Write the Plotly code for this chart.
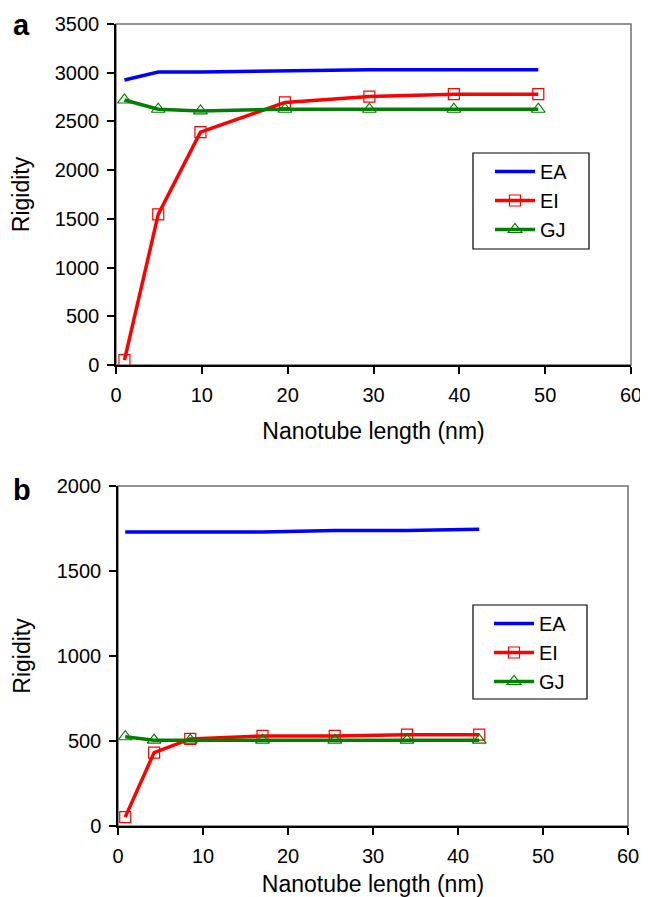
import plotly.graph_objects as go

# Panel a data
xa = [0.984, 4.92, 9.84, 19.68, 29.52, 39.36, 49.2]
ea_a = [2925, 3007, 3007, 3020, 3030, 3030, 3030]
ei_a = [50, 1545, 2390, 2695, 2755, 2780, 2780]
gj_a = [2720, 2625, 2608, 2625, 2625, 2625, 2625]

# Panel b data
xb = [0.85, 4.25, 8.5, 17.0, 25.5, 34.0, 42.5]
ea_b = [1730, 1730, 1730, 1730, 1738, 1738, 1745]
ei_b = [52, 432, 512, 530, 530, 537, 537]
gj_b = [525, 505, 505, 505, 505, 505, 505]

x_ticks = [0, 10, 20, 30, 40, 50, 60]
ya_ticks = [0, 500, 1000, 1500, 2000, 2500, 3000, 3500]
yb_ticks = [0, 500, 1000, 1500, 2000]

BLUE, RED, GREEN = "#0000FF", "#FF0000", "#008000"
FONT = "Liberation Sans, Arial, sans-serif"

# page body has an 8 px margin: figure pixel = screen pixel - 8
OFF = 8
W, H = 640, 889


def px(x):
    return (x - OFF) / W


def py(y):
    return 1 - (y - OFF) / H


fig = go.Figure()


def add_panel(x, ea, ei, gj, xax, yax, legend):
    fig.add_trace(go.Scatter(x=x, y=ea, mode="lines", name="EA",
                             line=dict(color=BLUE, width=3.5),
                             xaxis=xax, yaxis=yax, legend=legend))
    fig.add_trace(go.Scatter(x=x, y=ei, mode="lines+markers", name="EI",
                             line=dict(color=RED, width=3.5),
                             marker=dict(symbol="square-open", size=11, color=RED,
                                         line=dict(width=1.2, color=RED)),
                             xaxis=xax, yaxis=yax, legend=legend))
    fig.add_trace(go.Scatter(x=x, y=gj, mode="lines+markers", name="GJ",
                             line=dict(color=GREEN, width=3.5),
                             marker=dict(symbol="triangle-up-open", size=12, color=GREEN,
                                         line=dict(width=1.2, color=GREEN)),
                             xaxis=xax, yaxis=yax, legend=legend))


add_panel(xa, ea_a, ei_a, gj_a, "x", "y", "legend")
add_panel(xb, ea_b, ei_b, gj_b, "x2", "y2", "legend2")

dom_xa = [px(116), px(631)]
dom_ya = [py(365), py(24)]
dom_xb = [px(118), px(628)]
dom_yb = [py(826), py(486)]

axis_common = dict(showline=True, linecolor="black", linewidth=1.5, ticks="outside",
                   ticklen=7, tickwidth=1.5, tickcolor="black", showgrid=False,
                   zeroline=False, automargin=False, ticklabelstandoff=4,
                   tickfont=dict(size=20, color="black", family=FONT),
                   title_font=dict(size=23, color="black", family=FONT))

legend_common = dict(xanchor="left", yanchor="top", borderwidth=0,
                     bgcolor="rgba(0,0,0,0)", font=dict(size=20, family=FONT, color="black"),
                     tracegroupgap=0, itemwidth=40)

fig.update_layout(
    width=W, height=H, margin=dict(l=0, r=0, t=0, b=0),
    plot_bgcolor="white", paper_bgcolor="white",
    font=dict(family=FONT, color="black"),
    xaxis=dict(domain=dom_xa, range=[0, 60], tickvals=x_ticks, anchor="y",
               title=dict(text="Nanotube length (nm)", standoff=18), **axis_common),
    yaxis=dict(domain=dom_ya, range=[0, 3500], tickvals=ya_ticks, anchor="x",
               title=dict(text="Rigidity", standoff=20), **axis_common),
    xaxis2=dict(domain=dom_xb, range=[0, 60], tickvals=x_ticks, anchor="y2",
                title=dict(text="Nanotube length (nm)", standoff=13), **axis_common),
    yaxis2=dict(domain=dom_yb, range=[0, 2000], tickvals=yb_ticks, anchor="x2",
                title=dict(text="Rigidity", standoff=20), **axis_common),
    legend=dict(x=px(490), y=py(152), **legend_common),
    legend2=dict(x=px(489), y=py(604), **legend_common),
    shapes=[
        dict(type="rect", xref="x domain", yref="y domain", x0=0, x1=1, y0=0, y1=1,
             line=dict(color="#707070", width=1.5), layer="below"),
        dict(type="rect", xref="x2 domain", yref="y2 domain", x0=0, x1=1, y0=0, y1=1,
             line=dict(color="#707070", width=1.5), layer="below"),
        # legend frames
        dict(type="rect", xref="paper", yref="paper", x0=px(473), x1=px(589),
             y0=py(249), y1=py(153), line=dict(color="black", width=1.2),
             fillcolor="white", layer="above"),
        dict(type="rect", xref="paper", yref="paper", x0=px(473), x1=px(587),
             y0=py(699), y1=py(605), line=dict(color="black", width=1.2),
             fillcolor="white", layer="above"),
    ],
    annotations=[
        dict(text="<b>a</b>", x=px(11), y=py(25), xref="paper", yref="paper",
             xanchor="left", yanchor="middle", showarrow=False,
             font=dict(size=29, family=FONT, color="black")),
        dict(text="<b>b</b>", x=px(11), y=py(490), xref="paper", yref="paper",
             xanchor="left", yanchor="middle", showarrow=False,
             font=dict(size=29, family=FONT, color="black")),
    ],
)

fig.write_html("out.html")
